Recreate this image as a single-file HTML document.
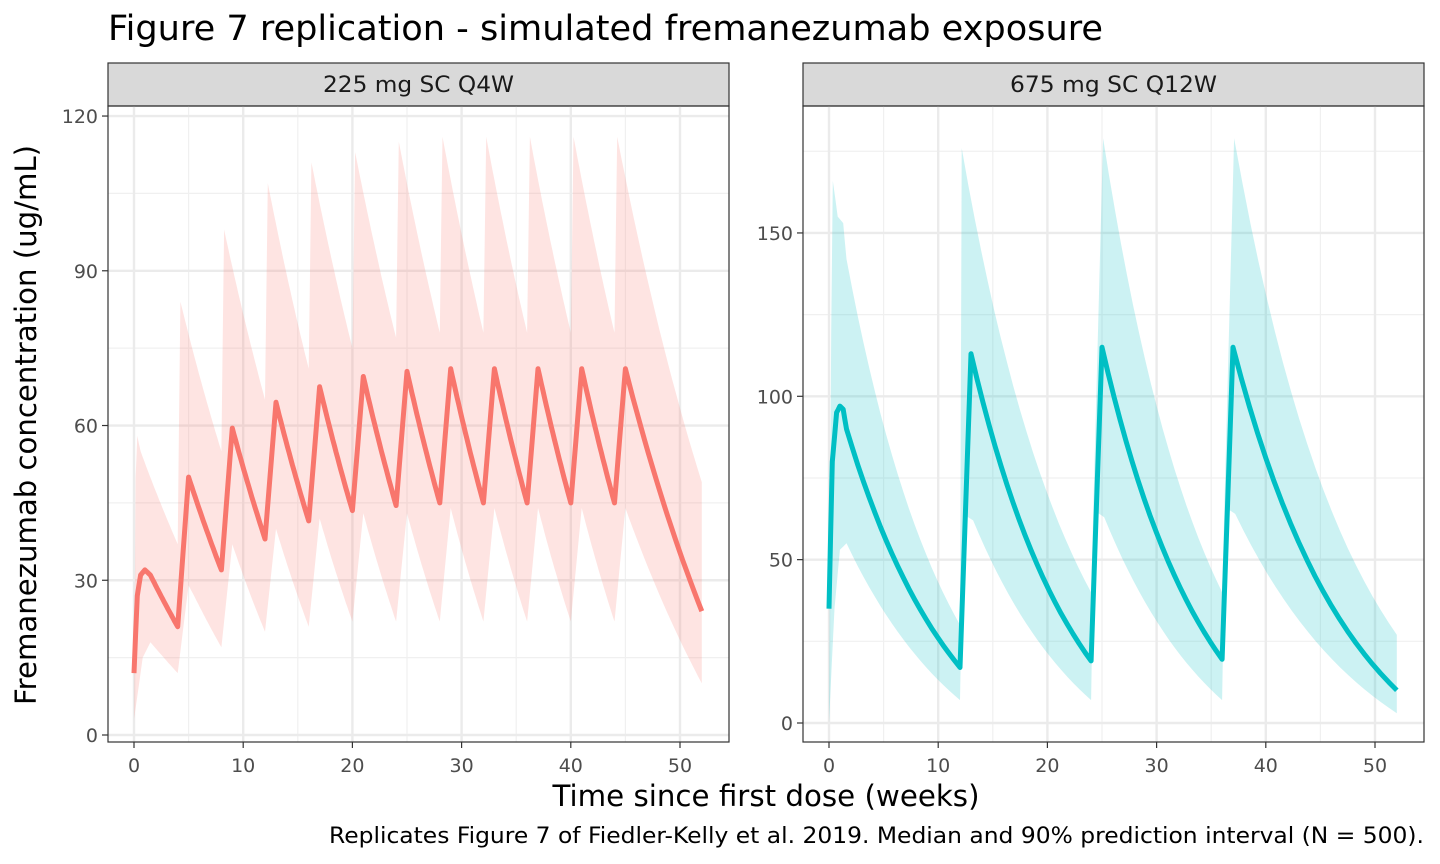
<!DOCTYPE html>
<html><head><meta charset="utf-8"><style>
html,body{margin:0;padding:0;background:#fff;}
svg{display:block;font-family:"Liberation Sans","DejaVu Sans",sans-serif;}
</style></head><body>
<svg id="s" width="1440" height="864" xmlns="http://www.w3.org/2000/svg">
<rect width="1440" height="864" fill="#fff"/>
<text x="108" y="40" font-size="35" fill="#000" font-family="DejaVu Sans, sans-serif" textLength="995" lengthAdjust="spacingAndGlyphs">Figure 7 replication - simulated fremanezumab exposure</text>
<g id="p"></g>
<text x="766" y="806" font-size="29" text-anchor="middle" font-family="DejaVu Sans, sans-serif" textLength="427" lengthAdjust="spacingAndGlyphs">Time since first dose (weeks)</text>
<text transform="translate(36,425) rotate(-90)" font-size="29" text-anchor="middle" font-family="DejaVu Sans, sans-serif" textLength="560" lengthAdjust="spacingAndGlyphs">Fremanezumab concentration (ug/mL)</text>
<text x="1424" y="843" font-size="22" text-anchor="end" font-family="DejaVu Sans, sans-serif" textLength="1095" lengthAdjust="spacingAndGlyphs">Replicates Figure 7 of Fiedler-Kelly et al. 2019. Median and 90% prediction interval (N = 500).</text>
</svg>
<script>
const NS="http://www.w3.org/2000/svg";
const g=document.getElementById('p');
function el(t,a,txt){const e=document.createElementNS(NS,t);for(const k in a)e.setAttribute(k,a[k]);if(txt!==undefined)e.textContent=txt;g.appendChild(e);return e;}
function build(keys,c){
  const pts=[];
  for(let i=0;i<keys.length-1;i++){
    const [t0,v0,d]=keys[i],[t1,v1]=keys[i+1];
    const n=d?20:2;
    for(let j=0;j<n;j++){const f=j/n;let v;
      if(d){v=(v0+c)*Math.pow((v1+c)/(v0+c),f)-c;}else v=v0+(v1-v0)*f;
      pts.push([t0+(t1-t0)*f,v]);}
  }
  pts.push(keys[keys.length-1].slice(0,2));return pts;
}
function panel(P){
  const X=t=>P.x0+t*P.sx, Y=v=>P.y0-v*P.sy;
  el('rect',{x:P.L,y:63,width:P.R-P.L,height:43,fill:'#d9d9d9',stroke:'#333','stroke-width':1.2});
  el('text',{x:(P.L+P.R)/2,y:92,'font-size':22,'text-anchor':'middle',fill:'#1a1a1a','font-family':'DejaVu Sans, sans-serif',textLength:P.tl,lengthAdjust:'spacingAndGlyphs'},P.title);
  for(let t=5;t<=50;t+=10)el('line',{x1:X(t),x2:X(t),y1:106,y2:742,stroke:'#f0f0f0','stroke-width':1.2});
  for(const v of P.minor)el('line',{x1:P.L,x2:P.R,y1:Y(v),y2:Y(v),stroke:'#f0f0f0','stroke-width':1.2});
  for(let t=0;t<=50;t+=10)el('line',{x1:X(t),x2:X(t),y1:106,y2:742,stroke:'#ebebeb','stroke-width':2.4});
  for(const v of P.major)el('line',{x1:P.L,x2:P.R,y1:Y(v),y2:Y(v),stroke:'#ebebeb','stroke-width':2.4});
  const up=build(P.up,P.c),lo=build(P.lo,P.c);
  let d='M'+up.map(p=>X(p[0]).toFixed(1)+','+Y(p[1]).toFixed(1)).join('L');
  d+='L'+lo.reverse().map(p=>X(p[0]).toFixed(1)+','+Y(p[1]).toFixed(1)).join('L')+'Z';
  el('path',{d:d,fill:P.col,'fill-opacity':0.2});
  const md=build(P.md,P.c);
  el('path',{d:'M'+md.map(p=>X(p[0]).toFixed(1)+','+Y(p[1]).toFixed(1)).join('L'),fill:'none',stroke:P.col,'stroke-width':5,'stroke-linejoin':'round'});
  el('rect',{x:P.L,y:106,width:P.R-P.L,height:636,fill:'none',stroke:'#333','stroke-width':1.2});
  for(let t=0;t<=50;t+=10){el('line',{x1:X(t),x2:X(t),y1:742,y2:748,stroke:'#333','stroke-width':1.2});
    el('text',{x:X(t),y:772,'font-size':19,'text-anchor':'middle',fill:'#4d4d4d','font-family':'DejaVu Sans, sans-serif'},t);}
  for(const v of P.major){el('line',{x1:P.L-6,x2:P.L,y1:Y(v),y2:Y(v),stroke:'#333','stroke-width':1.2});
    el('text',{x:P.L-10,y:Y(v)+7,'font-size':19,'text-anchor':'end',fill:'#4d4d4d','font-family':'DejaVu Sans, sans-serif'},v);}
}
const lmd=[[0,12],[0.3,27],[0.6,31],[1,32,1],[1.5,31,1],[4,21],[5,50,1],[8,32],[9,59.5,1],[12,38],[13,64.5,1],[16,41.5],[17,67.5,1],[20,43.5],[21,69.5,1],[24,44.5],[25,70.5,1],[28,45],[29,71,1],[32,45],[33,71,1],[36,45],[37,71,1],[40,45],[41,71,1],[44,45],[45,71,1],[52,24]];
const lup=[[0,2],[0.15,50],[0.3,58],[0.6,55,1],[4,37],[4.25,84,1],[8,55],[8.25,98,1],[12,65],[12.25,107,1],[16,71],[16.25,111,1],[20,75],[20.25,113,1],[24,77],[24.25,115,1],[28,78],[28.25,116,1],[32,78],[32.25,116,1],[36,78],[36.25,116,1],[40,78],[40.25,116,1],[44,78],[44.25,116,1],[52,49]];
const llo=[[0,3],[0.8,15],[1.5,18,1],[4,12],[5,29],[5.5,27,1],[8,17],[9,37,1],[12,20],[13,40,1],[16,21],[17,42,1],[20,22],[21,43,1],[24,22],[25,43,1],[28,22],[29,44,1],[32,22],[33,44,1],[36,22],[37,44,1],[40,22],[41,44,1],[44,22],[45,44,1],[52,10]];
panel({L:108,R:729,x0:134,sx:10.92,y0:735,sy:5.158,title:'225 mg SC Q4W',tl:191,major:[0,30,60,90,120],minor:[15,45,75,105],col:'#F8766D',c:60,md:lmd,up:lup,lo:llo});
const rmd=[[0,35],[0.3,80],[0.7,95],[1,97],[1.3,96],[1.6,90,1],[12,17],[13,113,1],[24,19],[25,115,1],[36,19.5],[37,115,1],[52,10]];
const rup=[[0,5],[0.2,120],[0.35,166],[0.8,155],[1.3,153],[1.6,142,1],[12,30],[12.15,176,1],[24,40],[25.1,179,1],[36,40],[37.1,179,1],[52,27]];
const rlo=[[0,0],[0.5,35],[1,53],[1.6,55,1],[12,7],[12.3,64],[13.2,62,1],[24,7],[24.3,65],[25.2,63,1],[36,7],[36.3,66],[37.2,64,1],[52,3]];
panel({L:803,R:1424,x0:829,sx:10.92,y0:723,sy:3.267,title:'675 mg SC Q12W',tl:207,major:[0,50,100,150],minor:[25,75,125,175],col:'#00BFC4',c:25,md:rmd,up:rup,lo:rlo});
</script>
</body></html>
